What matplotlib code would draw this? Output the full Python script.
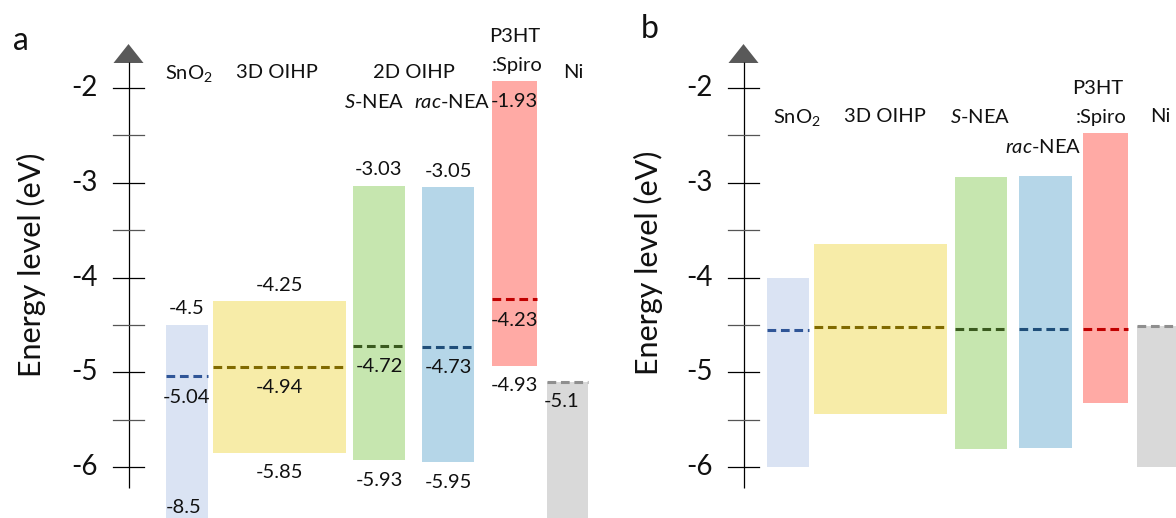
import matplotlib
matplotlib.use("agg")
import matplotlib.pyplot as plt
from matplotlib.transforms import blended_transform_factory

plt.rcParams["font.family"] = ["Lato", "DejaVu Sans"]
plt.rcParams["mathtext.fontset"] = "custom"
plt.rcParams["mathtext.rm"] = "Lato"
plt.rcParams["mathtext.it"] = "Lato:italic"

# device stack, left to right
layers = ["SnO2", "3D OIHP", "S-NEA", "rac-NEA", "P3HT:Spiro", "Ni"]

# (a) isolated layers: band edges and Fermi level (eV)
top_a = [-4.5, -4.25, -3.03, -3.05, -1.93, -5.1]
bottom_a = [-8.5, -5.85, -5.93, -5.95, -4.93, -8.5]
fermi_a = [-5.04, -4.94, -4.72, -4.73, -4.23, -5.1]

# (b) after contact, Fermi levels aligned (eV)
top_b = [-4.0, -3.65, -2.94, -2.93, -2.47, -4.51]
bottom_b = [-6.0, -5.44, -5.81, -5.8, -5.32, -6.0]
fermi_b = [-4.55, -4.52, -4.54, -4.54, -4.54, -4.51]

major_ticks = [-2, -3, -4, -5, -6]
minor_ticks = [-2.5, -3.5, -4.5, -5.5]

# ---- layout (pixels) ----
W, H = 1176, 518
PX_PER_EV = 94.75
Y_TOP = -2 + 88 / PX_PER_EV
Y_BOT = -2 - (H - 88) / PX_PER_EV

left_a = [166, 213, 353, 422, 492, 547]
right_a = [208, 346, 405, 474, 537, 588]
left_b = [767, 814, 955, 1019, 1083, 1137]
right_b = [809, 947, 1007, 1072, 1128, 1190]

fills = ["#dae3f3", "#f7eca8", "#c6e6af", "#b5d6e8", "#ffaaa5", "#d9d9d9"]
dash_colors = ["#2f5597", "#806a00", "#3a5a1f", "#1f4e79", "#c00000", "#8f8f8f"]
TXT = "#111111"
FS = 14.5

fig = plt.figure(figsize=(W / 100, H / 100), dpi=100)
ax_a = fig.add_axes([0, 0, 600 / W, 1])
ax_b = fig.add_axes([600 / W, 0, 576 / W, 1])
ax_a.set_xlim(0, 600)
ax_b.set_xlim(600, W)
for ax in (ax_a, ax_b):
    ax.set_ylim(Y_BOT, Y_TOP)
    ax.axis("off")


def put(x, y, s, size=FS, **kw):
    kw.setdefault("ha", "center")
    kw.setdefault("va", "center")
    fig.text(x / W, 1 - y / H, s, fontsize=size, color=TXT, **kw)


def energy_axis(ax, x0):
    # vertical axis with arrow head, ticks and labels
    ax.plot([x0, x0], [-6.222, -1.73], color="black", lw=0.9, solid_capstyle="butt")
    ax.fill([x0 - 15, x0 + 15, x0], [-1.736, -1.736, -1.536], color="#595959", lw=0)
    for t in major_ticks:
        ax.plot([x0 - 16, x0 + 15], [t, t], color="black", lw=0.9)
        ax.text(x0 - 31, t, f"{t:g}", ha="right", va="center", fontsize=20, color=TXT)
    for t in minor_ticks:
        ax.plot([x0 - 16, x0 + 15], [t, t], color="#555555", lw=0.9)


def levels(ax, left, right, top, bottom, fermi):
    width = [r - l for l, r in zip(left, right)]
    ax.bar(left, [t - b for t, b in zip(top, bottom)], width=width, bottom=bottom,
           align="edge", color=fills, lw=0, zorder=1)
    for l, r, f, c in zip(left, right, fermi, dash_colors):
        ax.plot([l, r], [f, f], color=c, lw=2.2, dashes=(2.85, 1.55), zorder=2)


def value_label(ax, x, v, dy, ha="center"):
    ax.annotate(f"{v:g}", xy=(x, v), xytext=(0, dy * 0.72), textcoords="offset points",
                ha=ha, va="center", fontsize=FS, color=TXT, zorder=3)


# ---- panel a ----
energy_axis(ax_a, 128.5)
levels(ax_a, left_a, right_a, top_a, bottom_a, fermi_a)
centers_a = [(l + r) / 2 for l, r in zip(left_a, right_a)]
for i in range(4):
    value_label(ax_a, centers_a[i], top_a[i], 16)
value_label(ax_a, centers_a[4], top_a[4], -20)
for i in range(1, 5):
    value_label(ax_a, centers_a[i], bottom_a[i], -20)
for i in range(5):
    value_label(ax_a, centers_a[i], fermi_a[i], -21)
value_label(ax_a, left_a[5] - 3, fermi_a[5], -20, ha="left")
ax_a.text(centers_a[0] - 3, 0.021, f"{bottom_a[0]:g}", ha="center", va="center",
          fontsize=FS, color=TXT,
          transform=blended_transform_factory(ax_a.transData, ax_a.transAxes))

put(189, 73, "SnO$_2$")
put(277, 73, "3D OIHP")
put(414, 73, "2D OIHP")
put(374, 102, r"$\mathit{S}$-NEA")
put(452, 102, r"$\mathit{rac}$-NEA")
put(515, 37, "P3HT")
put(517, 66, ":Spiro")
put(573, 73, "Ni")
put(31, 265, "Energy level (eV)", size=22, rotation=90)
put(21, 41, "a", size=23)

# ---- panel b ----
energy_axis(ax_b, 743.5)
levels(ax_b, left_b, right_b, top_b, bottom_b, fermi_b)

put(797, 117, "SnO$_2$")
put(885, 117, "3D OIHP")
put(980, 117, r"$\mathit{S}$-NEA")
put(1043, 147, r"$\mathit{rac}$-NEA")
put(1098, 89, "P3HT")
put(1101, 118, ":Spiro")
put(1160, 117, "Ni")
put(648, 263, "Energy level (eV)", size=22, rotation=90)
put(650, 29, "b", size=23)

fig.savefig("out.png", dpi=100)
